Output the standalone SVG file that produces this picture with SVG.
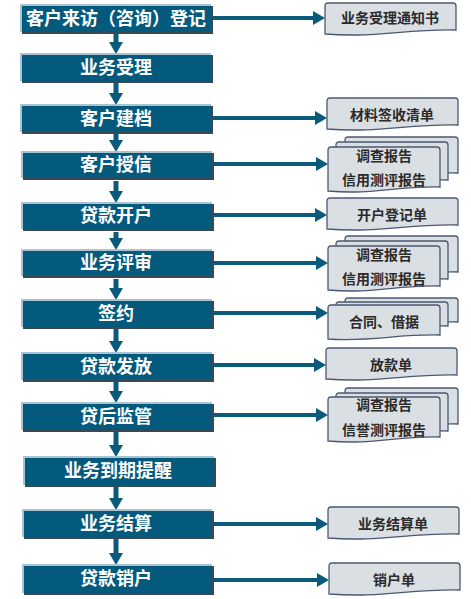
<svg xmlns="http://www.w3.org/2000/svg" width="471" height="599" viewBox="0 0 471 599">
<style>
.sh{fill:#3a4852}
.bx{fill:#045a7c}
.hl{fill:none;stroke:#a9c3d3;stroke-width:2}
.bt{fill:#ffffff;font-family:"Noto Sans CJK SC","Noto Sans",sans-serif;font-size:18px;font-weight:bold;text-anchor:middle}
.doc{fill:#dadfe4;stroke:#4b5872;stroke-width:1.3}
.dt{fill:#2a2a2a;font-family:"Noto Sans CJK SC","Noto Sans",sans-serif;font-size:14px;font-weight:bold;text-anchor:middle}
.ar{fill:none;stroke:#0a5a7b;stroke-width:5}
.ah{fill:none;stroke:#0a5a7b;stroke-width:4}
</style>
<defs>
<marker id="hd" markerUnits="userSpaceOnUse" markerWidth="12" markerHeight="14" refX="0" refY="7" orient="auto">
<path d="M0,0 L12,7 L0,14 Z" fill="#0a5a7b"/>
</marker>
<path id="d1" d="M0,3 Q0,0 3,0 H128 Q131,0 131,3 V27 C79,26 52,35 0,31 Z"/>
<path id="df" d="M0,3 Q0,0 3,0 H109 Q112,0 112,3 V40 C67,39 45,48 0,44 Z"/>
<path id="dm" d="M0,3 Q0,0 3,0 H109 Q112,0 112,3 V38 C67,37 45,46 0,42 Z"/>
<path id="db" d="M0,3 Q0,0 3,0 H110 Q113,0 113,3 V36 C67,35 45,44 0,40 Z"/>
<path id="cf" d="M0,3 Q0,0 3,0 H109 Q112,0 112,3 V30 C67,29 45,37 0,34 Z"/>
<path id="cm" d="M0,3 Q0,0 3,0 H109 Q112,0 112,3 V24 C67,23 45,31 0,28 Z"/>
<path id="cb" d="M0,3 Q0,0 3,0 H110 Q113,0 113,3 V24 C67,23 45,31 0,28 Z"/>
</defs>

<g id="connectors">
<path class="ar" d="M116,33 V42" marker-end="url(#hd)"/>
<path class="ar" d="M116,83 V93" marker-end="url(#hd)"/>
<path class="ar" d="M116,134 V140" marker-end="url(#hd)"/>
<path class="ar" d="M116,181 V191" marker-end="url(#hd)"/>
<path class="ar" d="M116,232 V238" marker-end="url(#hd)"/>
<path class="ar" d="M116,279 V288" marker-end="url(#hd)"/>
<path class="ar" d="M116,329 V341" marker-end="url(#hd)"/>
<path class="ar" d="M116,382 V391" marker-end="url(#hd)"/>
<path class="ar" d="M116,432 V445" marker-end="url(#hd)"/>
<path class="ar" d="M116,487 V498" marker-end="url(#hd)"/>
<path class="ar" d="M116,539 V553" marker-end="url(#hd)"/>
<path class="ah" d="M213,18 H313" marker-end="url(#hd)"/>
<path class="ah" d="M213,118 H315" marker-end="url(#hd)"/>
<path class="ah" d="M213,164 H316" marker-end="url(#hd)"/>
<path class="ah" d="M213,215 H315" marker-end="url(#hd)"/>
<path class="ah" d="M213,263 H316" marker-end="url(#hd)"/>
<path class="ah" d="M213,313 H316" marker-end="url(#hd)"/>
<path class="ah" d="M213,365 H314" marker-end="url(#hd)"/>
<path class="ah" d="M213,415 H316" marker-end="url(#hd)"/>
<path class="ah" d="M213,524 H316" marker-end="url(#hd)"/>
<path class="ah" d="M213,580 H317" marker-end="url(#hd)"/>
</g>

<g id="n1"><rect class="sh" x="22" y="6" width="191" height="28"/><rect class="bx" x="20" y="4" width="191" height="28"/><path class="hl" d="M21,32 V5 H211"/><text class="bt" x="116" y="24.5">客户来访（咨询）登记</text></g>
<g id="n2"><rect class="sh" x="22" y="55" width="191" height="28"/><rect class="bx" x="20" y="53" width="191" height="28"/><path class="hl" d="M21,81 V54 H211"/><text class="bt" x="116" y="73.5">业务受理</text></g>
<g id="n3"><rect class="sh" x="22" y="106" width="191" height="28"/><rect class="bx" x="20" y="104" width="191" height="28"/><path class="hl" d="M21,132 V105 H211"/><text class="bt" x="116" y="124.5">客户建档</text></g>
<g id="n4"><rect class="sh" x="23" y="153" width="191" height="27"/><rect class="bx" x="21" y="151" width="191" height="27"/><path class="hl" d="M22,178 V152 H212"/><text class="bt" x="116" y="171">客户授信</text></g>
<g id="n5"><rect class="sh" x="23" y="204" width="191" height="27"/><rect class="bx" x="21" y="202" width="191" height="27"/><path class="hl" d="M22,229 V203 H212"/><text class="bt" x="116" y="222">贷款开户</text></g>
<g id="n6"><rect class="sh" x="23" y="251" width="191" height="27"/><rect class="bx" x="21" y="249" width="191" height="27"/><path class="hl" d="M22,276 V250 H212"/><text class="bt" x="116" y="269">业务评审</text></g>
<g id="n7"><rect class="sh" x="23" y="301" width="191" height="28"/><rect class="bx" x="21" y="299" width="191" height="28"/><path class="hl" d="M22,327 V300 H212"/><text class="bt" x="116" y="319.5">签约</text></g>
<g id="n8"><rect class="sh" x="23" y="354" width="191" height="28"/><rect class="bx" x="21" y="352" width="191" height="28"/><path class="hl" d="M22,380 V353 H212"/><text class="bt" x="116" y="372.5">贷款发放</text></g>
<g id="n9"><rect class="sh" x="23" y="404" width="191" height="28"/><rect class="bx" x="21" y="402" width="191" height="28"/><path class="hl" d="M22,430 V403 H212"/><text class="bt" x="116" y="422.5">贷后监管</text></g>
<g id="n10"><rect class="sh" x="25" y="458" width="191" height="29"/><rect class="bx" x="23" y="456" width="191" height="29"/><path class="hl" d="M24,485 V457 H214"/><text class="bt" x="118" y="477">业务到期提醒</text></g>
<g id="n11"><rect class="sh" x="24" y="511" width="190" height="28"/><rect class="bx" x="22" y="509" width="190" height="28"/><path class="hl" d="M23,537 V510 H212"/><text class="bt" x="116" y="529.5">业务结算</text></g>
<g id="n12"><rect class="sh" x="24" y="566" width="190" height="29"/><rect class="bx" x="22" y="564" width="190" height="29"/><path class="hl" d="M23,593 V565 H212"/><text class="bt" x="116" y="585">贷款销户</text></g>

<g id="d-notice"><use href="#d1" class="doc" x="325" y="3"/><text class="dt" x="390" y="23">业务受理通知书</text></g>
<g id="d-receipt"><use href="#d1" class="doc" x="327" y="98"/><text class="dt" x="392" y="120">材料签收清单</text></g>
<g id="d-credit"><use href="#db" class="doc" x="345" y="137"/><use href="#dm" class="doc" x="336" y="142"/><use href="#df" class="doc" x="328" y="147"/><text class="dt" x="384" y="161">调查报告</text><text class="dt" x="384" y="185">信用测评报告</text></g>
<g id="d-account"><use href="#d1" class="doc" x="327" y="198"/><text class="dt" x="392" y="220">开户登记单</text></g>
<g id="d-review"><use href="#db" class="doc" x="345" y="236"/><use href="#dm" class="doc" x="336" y="241"/><use href="#df" class="doc" x="328" y="246"/><text class="dt" x="384" y="260">调查报告</text><text class="dt" x="384" y="284">信用测评报告</text></g>
<g id="d-contract"><use href="#cb" class="doc" x="345" y="298"/><use href="#cm" class="doc" x="336" y="302"/><use href="#cf" class="doc" x="328" y="305"/><text class="dt" x="384" y="327">合同、借据</text></g>
<g id="d-loan"><use href="#d1" class="doc" x="326" y="348"/><text class="dt" x="391" y="370">放款单</text></g>
<g id="d-monitor"><use href="#db" class="doc" x="345" y="388"/><use href="#dm" class="doc" x="336" y="393"/><use href="#df" class="doc" x="328" y="397"/><text class="dt" x="384" y="410">调查报告</text><text class="dt" x="384" y="435">信誉测评报告</text></g>
<g id="d-settle"><use href="#d1" class="doc" x="328" y="507"/><text class="dt" x="393" y="529">业务结算单</text></g>
<g id="d-close"><use href="#d1" class="doc" x="329" y="563"/><text class="dt" x="394" y="585">销户单</text></g>
</svg>
